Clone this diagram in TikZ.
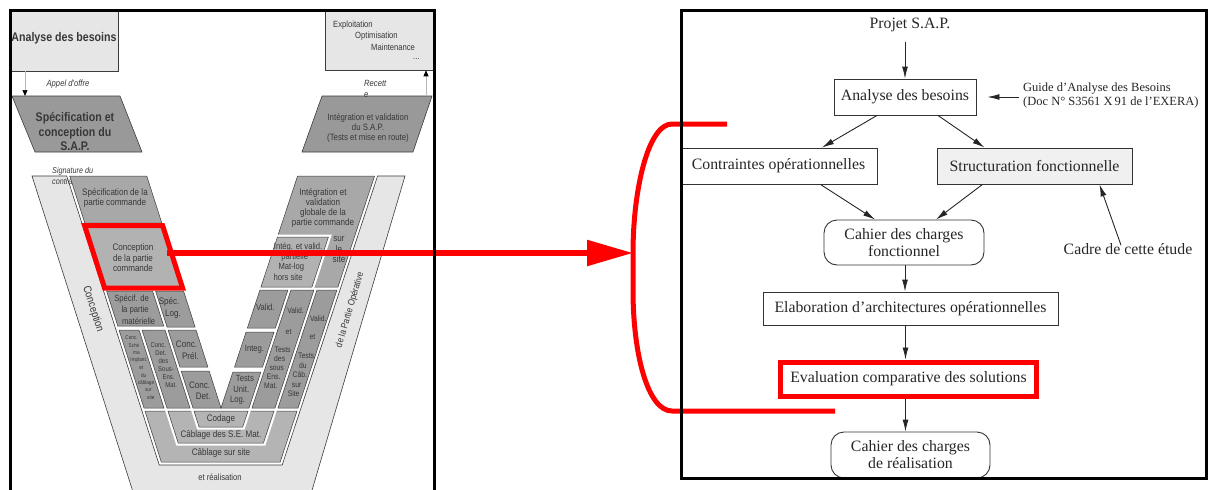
\documentclass[tikz,border=0pt]{standalone}
\usepackage{fontspec}
\setmainfont{Liberation Serif}
\newfontfamily\vsans[FakeStretch=0.85]{Liberation Sans}
\usetikzlibrary{arrows.meta}
\definecolor{gL}{HTML}{E6E6E6}
\definecolor{gA}{HTML}{A8A8A8}
\definecolor{gM}{HTML}{B2B2B2}
\definecolor{gB}{HTML}{9C9C9C}
\definecolor{gC}{HTML}{B4B4B4}
\definecolor{gD}{HTML}{999999}
\definecolor{gS}{HTML}{F0F0F0}
\definecolor{edge}{HTML}{3C3C3C}
\definecolor{txt}{HTML}{383838}
\definecolor{hl}{HTML}{FF0000}

% quadrilaterals following the slanted arms of the V
\newcommand\Vleft[5]{\path[#1] ({xl(#2,#4)},#4) -- ({xl(#3,#4)},#4) -- ({xl(#3,#5)},#5) -- ({xl(#2,#5)},#5) -- cycle;}
\newcommand\Vright[5]{\path[#1] ({xr(#2,#4)},#4) -- ({xr(#3,#4)},#4) -- ({xr(#3,#5)},#5) -- ({xr(#2,#5)},#5) -- cycle;}
\newcommand\Vmid[4]{\path[#1] ({xl(#2,#3)},#3) -- ({xr(#2,#3)},#3) -- ({xr(#2,#4)},#4) -- ({xl(#2,#4)},#4) -- cycle;}
% text lines following the slant of an arm
\newcommand\Ltext[4]{\foreach \yy/\ww [count=\ii] in {#4} \node[#2] (#1-\ii) at ({xl(#3,\yy)},\yy) {\ww};}
\newcommand\Rtext[4]{\foreach \yy/\ww [count=\ii] in {#4} \node[#2] (#1-\ii) at ({xr(#3,\yy)},\yy) {\ww};}

\begin{document}
\begin{tikzpicture}[x=1pt,y=-1pt,
  declare function={xl(\dd,\yv)=221-\dd-0.32*(408-\yv); xr(\dd,\yv)=221+\dd+0.33*(408-\yv);},
  vt/.style={text=txt, inner sep=0pt, font=\vsans\fontsize{#1}{#1}\selectfont},
  vti/.style={text=txt, inner sep=0pt, font=\vsans\itshape\fontsize{#1}{#1}\selectfont},
  vtm/.style 2 args={text=txt, inner sep=0pt, align=center, font=\vsans\fontsize{#1}{#2}\selectfont},
  vtb/.style 2 args={text=txt, inner sep=0pt, align=center, font=\vsans\bfseries\fontsize{#1}{#2}\selectfont},
  lbox/.style={fill=gL, draw=edge, line width=0.6, inner sep=0pt},
  pg/.style={fill=gD, draw=edge, line width=0.6},
  blkA/.style={fill=gA, draw=edge, line width=0.5},
  blkM/.style={fill=gM, draw=edge, line width=0.5},
  blkB/.style={fill=gB, draw=edge, line width=0.5},
  band/.style={fill=gC, draw=edge, line width=0.5},
  halo/.style={preaction={draw=white, line width=5}},
  garrow/.style={draw=gray!55, line width=0.7, -{Triangle[length=6pt,width=5pt,black]}},
  rtxt/.style={text=black!85, inner sep=0pt, font=\fontsize{15.8}{17}\selectfont, align=center},
  fbox/.style={draw=black!80, line width=0.9, inner sep=0pt, align=center, text=black!85, font=\fontsize{15.8}{17}\selectfont},
  flow/.style={draw=black!85, line width=0.9, -{Latex[length=12pt,width=6pt]}},
  redline/.style={draw=hl, line width=5.5}
]
\useasboundingbox (0,0) rectangle (1211,490);
\begin{scope}
\clip (0,0) rectangle (1211,490);

% ---------------- left panel: top boxes ----------------
\node[lbox, minimum width=108, minimum height=61] (lanal) at (64,40.5) {};
\node[vtb={12.5}{14.5}] (lanalT) at (64,38.5) {Analyse des besoins};
\node[lbox, minimum width=109, minimum height=60] (lexpl) at (379.5,40) {};
\node[vt=9, anchor=west] (ex1) at (333,25) {Exploitation};
\node[vt=9, anchor=west] (ex2) at (355,36) {Optimisation};
\node[vt=9, anchor=west] (ex3) at (371,47) {Maintenance};
\node[vt=9, anchor=west] (ex4) at (413,59) {...};

\path[pg] (12,96) -- (120,96) -- (142,152) -- (35,152) -- cycle;
\node[vtb={12.5}{14.5}] (tspec) at (75,131.5) {Spécification et\\conception du\\S.A.P.};
\path[pg] (322,96) -- (432,96) -- (413,152) -- (302,152) -- cycle;
\node[vtm={9.2}{10}] (tintsap) at (368,128) {Intégration et validation\\du S.A.P.\\(Tests et mise en route)};

\coordinate (specIn) at (25,96);
\draw[garrow] ([xshift=-39pt]lanal.south) -- (specIn);
\coordinate (intOut) at (426,96);
\draw[garrow] (intOut) -- (intOut |- lexpl.south);
\node[vti=9] (appel) at (68,84) {Appel d'offre};
\node[vti=9, anchor=west] (rec1) at (364,83) {Recett};
\node[vti=9, anchor=west] (rec2) at (364,95) {e};

% ---------------- the V ----------------
% outer light band
\path[fill=gL, draw=edge, line width=0.6] (32,176) -- (134,495) -- (310.6,495) -- (405,176)
  -- ({xr(80,176)},176) -- ({xr(80,465)},465) -- ({xl(80,465)},465) -- ({xl(80,176)},176) -- cycle;
\node[vti=8.5, anchor=west, align=left, font=\vsans\itshape\fontsize{8.5}{11}\selectfont] (sig) at (52,175.5) {Signature du\\contrat};

% nested bottom bands
\Vmid{band}{77}{411}{462}
\Vmid{band,halo}{54}{411}{443}
\Vmid{band,halo}{28}{411}{427}

% left arm
\Vleft{blkA}{0}{77}{176}{223}
\Vleft{blkM}{0}{77}{226}{288}
\Vleft{blkB}{31}{77}{291}{326}
\Vleft{blkB}{0}{28}{291}{327}
\Vleft{blkB}{57}{77}{330}{408}
\Vleft{blkB}{31}{54}{330}{408}
\Vleft{blkB}{0}{28}{330}{367}
\Vleft{blkB}{0}{28}{371}{408}

% right arm
\Vright{blkA}{0}{77}{176}{287}
\Vright{blkM,halo}{0}{51}{237}{287}
\Vright{blkB}{0}{28}{290}{328}
\Vright{blkB}{0}{28}{332}{367}
\Vright{blkB}{0}{28}{372}{408}
\Vright{blkB}{31}{54}{290}{408}
\Vright{blkB}{57}{77}{290}{408}

% texts of the left arm
\node[vtm={9.5}{10}] (tSpecPC) at (115,198) {Spécification de la\\partie commande};
\node[vtm={9.5}{10.5}] (tConcPC) at (133,258) {Conception\\de la partie\\commande};
\Ltext{tMat}{vt=9}{54.5}{299/Spécif. de,310/la partie,321/matérielle}
\Ltext{tLog}{vt=9.5}{18}{302/Spéc.,314/Log.}
\Ltext{tSch}{vt=5.5}{67}{338/Conc.,345.5/Sché,353/ma,360.5/Implant.,368/et,375.5/du,383/câblage,390.5/sur,398/site}
\Ltext{tSE}{vt=7}{42.5}{345/Conc.,353/Det.,361/des,369/Sous-,377/Ens.,385/Mat.}
\Ltext{tPre}{vt=9.5}{14}{344/Conc.,356/Prél.}
\Ltext{tDet}{vt=9.5}{14}{385/Conc.,396/Det.}

% texts of the right arm
\node[vtm={9.5}{10}] (tGlob) at (323,208) {Intégration et\\validation\\globale de la\\partie commande};
\node[vtm={9.5}{10.5}] (tSite) at (339,249.5) {sur\\le\\site};
\Rtext{tPart}{vt=9}{24}{247/Intég. et valid.,257.5/partielle,267.5/Mat-log,277.5/hors site}
\Rtext{tVal}{vt=9}{11}{307/Valid.}
\Rtext{tInt}{vt=9}{14}{349/Integ.}
\Rtext{tTU}{vt=9}{14}{378/Tests,389/Unit.,400/Log.}
\Rtext{tVt2}{vt=8}{42.5}{311/Valid.,332/et,350/Tests,359/des,368/sous,377/Ens.,386/Mat.}
\Rtext{tVt3}{vt=8}{68}{319/Valid.,337/et,356/Tests,366/du,375/Câb.,385/sur,394/Site}

% texts of the bands
\node[vt=9.5] (tCod) at (221,419) {Codage};
\node[vt=9.5] (tCSE) at (221,435.5) {Câblage des S.E. Mat.};
\node[vt=9.5] (tCSS) at (221,453.5) {Câblage sur site};
\node[vt=9] (tReal) at (220,477) {et réalisation};
\node[vt=11, rotate=-72.3] (tConcep) at (93,309) {Conception};
\node[vt=9.5, rotate=73.5] (tPO) at (350,310) {de la Partie Opérative};

% highlighted block and link
\Vleft{draw=hl, line width=5}{0}{78}{225.5}{288}
\coordinate (cpR) at ({xl(0,253)-4},253);
\coordinate (brk) at (633,253);
\draw[redline, -{Triangle[length=46pt,width=25pt]}] (cpR) -- (brk);
\draw[draw=hl, line width=5, line join=round] (727,124) -- (672,124)
  .. controls (648,124) and (633,190) .. (brk) -- (633,290)
  .. controls (633,355) and (648,411) .. (672,411) -- (835,411);

% ---------------- right panel ----------------
\node[rtxt] (proj) at (910,25) {Projet S.A.P.};
\node[fbox, minimum width=142, minimum height=36] (anal) at (905,97) {Analyse des besoins};
\node[rtxt, anchor=west, align=left, font=\fontsize{12.5}{14}\selectfont] (guide) at (1023,95) {Guide d'Analyse des Besoins\\(Doc N° S3561 X\,91 de l'EXERA)};
\node[fbox, minimum width=197, minimum height=36] (contr) at (778.5,166) {Contraintes opérationnelles};
\node[fbox, fill=gS, minimum width=195, minimum height=36] (struc) at (1034.5,166) {Structuration fonctionnelle};
\node[fbox, rounded corners=13, minimum width=160, minimum height=45] (cahf) at (904,242.5) {Cahier des charges\\fonctionnel};
\node[fbox, minimum width=295, minimum height=33] (elab) at (910.5,308.5) {Elaboration d'architectures opérationnelles};
\node[fbox, draw=hl, line width=5, minimum width=256, minimum height=34] (eval) at (908.5,379) {Evaluation comparative des solutions};
\node[fbox, rounded corners=13, minimum width=159, minimum height=46] (cahr) at (910.5,455) {Cahier des charges\\de réalisation};
\node[rtxt] (cadre) at (1128,249) {Cadre de cette étude};

\draw[flow] ([yshift=37pt]anal.north) -- (anal.north);
\draw[flow] ([xshift=-4pt]guide.west |- anal.east) -- ([xshift=11pt]anal.east);
\draw[flow] ([xshift=-28pt]anal.south) -- ([xshift=43.5pt]contr.north);
\draw[flow] ([xshift=33pt]anal.south) -- ([xshift=-50pt]struc.north);
\draw[flow] ([xshift=42pt]contr.south) -- ([xshift=-29pt]cahf.north);
\draw[flow] ([xshift=-52pt]struc.south) -- ([xshift=32pt]cahf.north);
\draw[flow] ([xshift=1pt]cahf.south) -- ([xshift=1pt]cahf.south |- elab.north);
\draw[flow] ([xshift=-5pt]elab.south) -- ([xshift=-5pt]elab.south |- eval.north);
\draw[flow] ([xshift=-3pt]eval.south) -- ([xshift=-3pt]eval.south |- cahr.north);
\draw[flow] ([xshift=-7pt,yshift=-2pt]cadre.north) -- ([xshift=65pt]struc.south);

% frames
\draw[line width=3] (10,492) -- (10,10) -- (434,10) -- (434,492);
\draw[line width=3] (681,10) rectangle (1206,478);
\end{scope}
\end{tikzpicture}
\end{document}
